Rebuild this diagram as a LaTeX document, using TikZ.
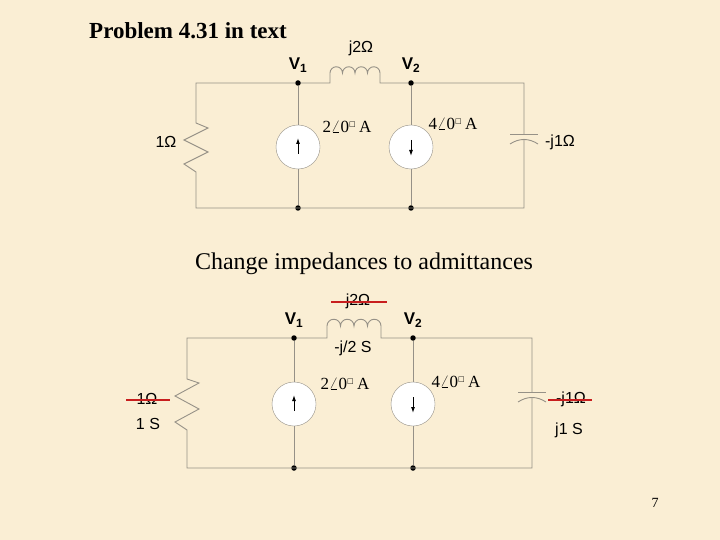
\documentclass[tikz,border=0pt]{standalone}
\usepackage{fontspec}
\setmainfont{Liberation Serif}
\newfontfamily\lsans{Liberation Sans}
\newfontfamily\dvs{DejaVu Sans}
\usetikzlibrary{arrows.meta}
\definecolor{bg}{RGB}{250,238,212}
\definecolor{wire}{RGB}{150,145,135}
\definecolor{strike}{RGB}{200,30,30}
\newcommand{\ang}[1]{#1$\angle$0\textsuperscript{\dvs\scriptsize□}\,A}
\begin{document}
\begin{tikzpicture}[x=1pt,y=-1pt,
  w/.style={draw=wire,line width=0.9pt},
  dot/.style={circle,fill=black,inner sep=0pt,minimum size=5.5pt},
  src/.style={circle,draw=wire,fill=white,minimum size=44pt,inner sep=0pt},
  lab/.style={font=\lsans\fontsize{16}{18}\selectfont,inner sep=1pt},
  vlab/.style={font=\lsans\bfseries\fontsize{17}{19}\selectfont},
  rlab/.style={font=\fontsize{17}{19}\selectfont,inner sep=1pt},
  strk/.style={draw=strike,line width=1.4pt},
  arr/.style={-{Latex[length=6pt,width=4pt]},line width=1pt}]
\fill[bg] (0,0) rectangle (720,540);
\useasboundingbox (0,0) rectangle (720,540);
\node[font=\bfseries\fontsize{23}{27}\selectfont] (t1) at (188,31) {Problem 4.31 in text};
\node[font=\fontsize{24}{28}\selectfont] (t2) at (364,264) {Change impedances to admittances};
\node[font=\fontsize{14}{16}\selectfont] (pg) at (655,503) {7};
% ---------- top circuit
\coordinate (aTL) at (196,83); \coordinate (aBL) at (196,208);
\coordinate (aTR) at (524,83); \coordinate (aBR) at (524,208);
\node[dot] (a1) at (298,83) {}; \node[dot] (a2) at (411,83) {};
\node[dot] (a3) at (298,208) {}; \node[dot] (a4) at (411,208) {};
\node[src] (s1) at (298,147) {}; \node[src] (s2) at (411,147) {};
\draw[arr] ([yshift=-7]s1.center) -- ([yshift=9]s1.center);
\draw[arr] ([yshift=7]s2.center) -- ([yshift=-9]s2.center);
\draw[w] (a1) -- (330,83) -- (330,73) arc(180:360:6.25) arc(180:360:6.25) arc(180:360:6.25) arc(180:360:6.25) -- (380,83) -- (a2) -- (aTR) -- (524,134);
\draw[w] (510,134) -- (538,134);
\draw[w] (510,144) .. controls (519,138) and (529,138) .. (538,144);
\draw[w] (524,139) -- (aBR) -- (aBL) -- (196,172) -- (184,164) -- (208,152) -- (184,140) -- (208,128) -- (196,123) -- (aTL) -- (a1);
\draw[w] (a1) -- (s1) -- (a3); \draw[w] (a2) -- (s2) -- (a4);
\node[lab] (l1) at (166,142) {1Ω};
\node[lab] (l2) at (361,48) {j2Ω};
\node[lab] (l3) at (560,142) {-j1Ω};
\node[rlab] (l4) at (347,127) {\ang{2}};
\node[rlab] (l5) at (453,124) {\ang{4}};
\node[vlab] (v1) at (298,65) {V\textsubscript{1}};
\node[vlab] (v2) at (411,65) {V\textsubscript{2}};
% ---------- bottom circuit
\coordinate (bTL) at (187,338); \coordinate (bBL) at (187,468);
\coordinate (bTR) at (532,338); \coordinate (bBR) at (532,468);
\node[dot] (b1) at (294,338) {}; \node[dot] (b2) at (413,338) {};
\node[dot] (b3) at (294,468) {}; \node[dot] (b4) at (413,468) {};
\node[src] (r1) at (294,404) {}; \node[src] (r2) at (413,404) {};
\draw[arr] ([yshift=-7]r1.center) -- ([yshift=9]r1.center);
\draw[arr] ([yshift=7]r2.center) -- ([yshift=-9]r2.center);
\draw[w] (b1) -- (327,338) -- (327,326) arc(180:360:6.75) arc(180:360:6.75) arc(180:360:6.75) arc(180:360:6.75) -- (381,338) -- (b2) -- (bTR) -- (532,392);
\draw[w] (518,392) -- (546,392);
\draw[w] (518,402) .. controls (527,396) and (537,396) .. (546,402);
\draw[w] (532,397) -- (bBR) -- (bBL) -- (187,430) -- (175,422) -- (199,409) -- (175,396) -- (199,383) -- (187,379) -- (bTL) -- (b1);
\draw[w] (b1) -- (r1) -- (b3); \draw[w] (b2) -- (r2) -- (b4);
\node[lab] (m1) at (147,399) {1Ω};
\draw[strk] (126,400) -- (170,400);
\node[lab] (m1b) at (148,424) {1 S};
\node[lab] (m2) at (358,301) {j2Ω};
\draw[strk] (331,302) -- (387,302);
\node[lab] (m2b) at (353,348) {-j/2 S};
\node[lab] (m3) at (571,399) {-j1Ω};
\draw[strk] (548,400) -- (592,400);
\node[lab] (m3b) at (569,430) {j1 S};
\node[rlab] (m4) at (345,384) {\ang{2}};
\node[rlab] (m5) at (456,382) {\ang{4}};
\node[vlab] (w1) at (294,320) {V\textsubscript{1}};
\node[vlab] (w2) at (413,320) {V\textsubscript{2}};
\end{tikzpicture}
\end{document}
